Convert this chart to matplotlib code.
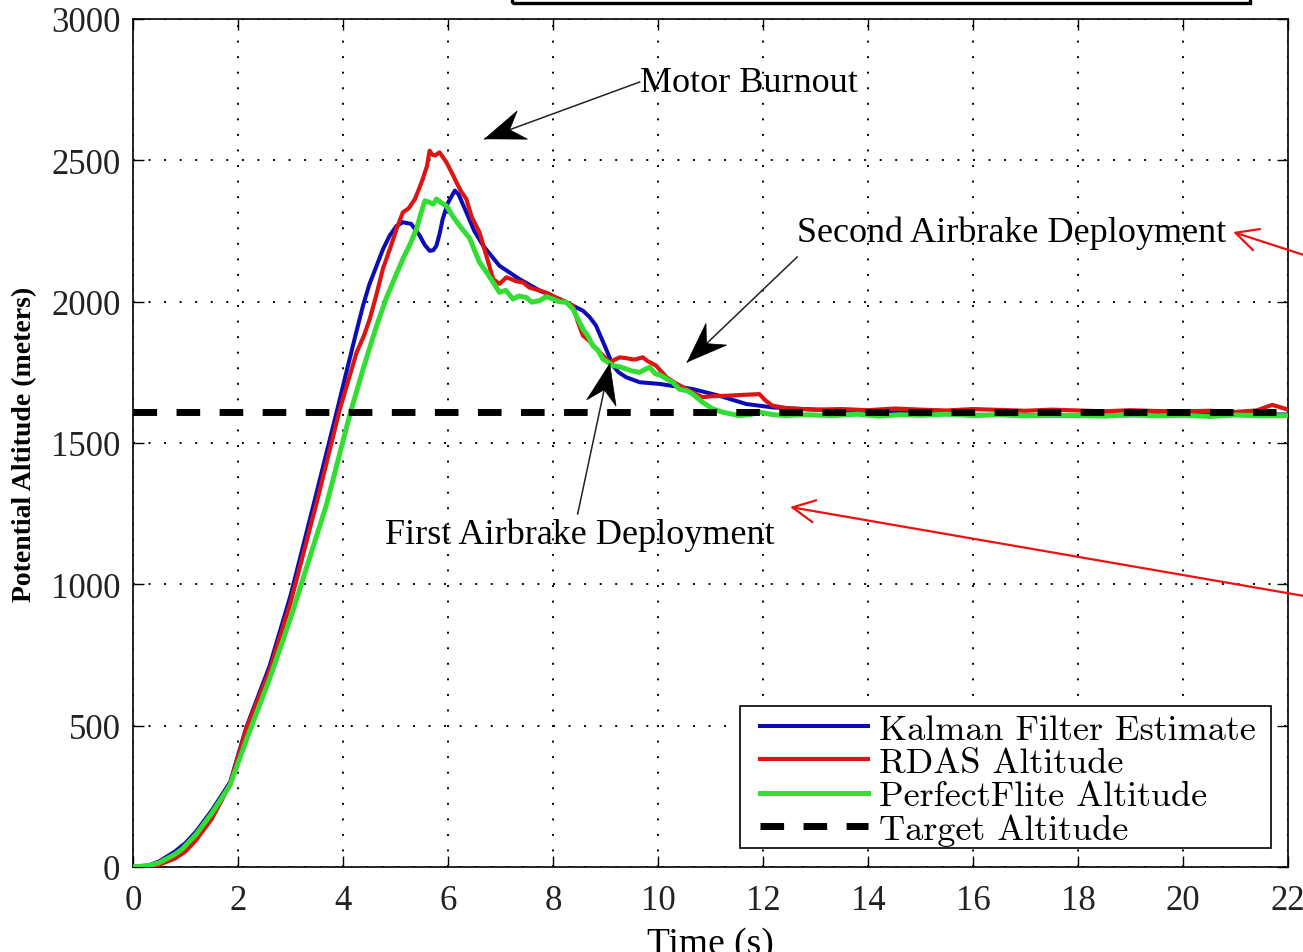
import numpy as np
import matplotlib
matplotlib.use('Agg')
import matplotlib.pyplot as plt
from matplotlib.patches import Polygon, Rectangle, FancyArrowPatch
from matplotlib.transforms import IdentityTransform

# Kalman filter estimate
kf_t = [0, 0.3, 0.5, 0.8, 1.0, 1.2, 1.5, 1.85, 2.16, 2.6, 3.0, 3.43, 3.88, 4.07, 4.25,
        4.38, 4.5, 4.64, 4.76, 4.89, 5.02, 5.14, 5.30, 5.46, 5.56, 5.65, 5.72, 5.78, 5.84,
        5.90, 6.0, 6.13, 6.2, 6.35, 6.5, 6.67, 6.98, 7.36, 7.75, 8.25, 8.57, 8.7, 8.82,
        9.01, 9.14, 9.25, 9.39, 9.65, 10.03, 10.66, 11.17, 11.68, 12.18, 13.0, 14.0, 15.0,
        16.0, 17.0, 18.0, 19.0, 20.0, 21.0, 22.0]
kf_alt = [0, 6, 20, 55, 85, 125, 200, 300, 495, 710, 960, 1275, 1610, 1755, 1890,
          1985, 2060, 2127, 2185, 2234, 2268, 2281, 2275, 2234, 2200, 2180, 2182, 2198, 2240,
          2293, 2350, 2393, 2380, 2316, 2250, 2198, 2127, 2080, 2039, 1998, 1968, 1945, 1915,
          1833, 1774, 1750, 1733, 1715, 1709, 1691, 1667, 1638, 1626, 1618, 1612, 1606,
          1600, 1598, 1597, 1598, 1600, 1600, 1601]

# RDAS altimeter
rdas_t = [0, 0.3, 0.5, 0.8, 1.0, 1.2, 1.5, 1.7, 1.85, 2.16, 2.6, 3.0, 3.5, 3.94, 4.1,
          4.26, 4.4, 4.51, 4.63, 4.76, 4.9, 5.02, 5.14, 5.25, 5.37, 5.45, 5.52, 5.6, 5.65,
          5.7, 5.75, 5.84, 5.97, 6.1, 6.16, 6.25, 6.35, 6.45, 6.6, 6.75, 6.86, 6.98, 7.05,
          7.11, 7.2, 7.3, 7.43, 7.55, 7.75, 7.9, 8.05, 8.19, 8.38, 8.47, 8.57, 8.7, 8.82,
          8.95, 9.08, 9.2, 9.27, 9.4, 9.55, 9.71, 9.8, 9.96, 10.16, 10.35, 10.54, 10.7,
          10.85, 11.0, 11.3, 11.6, 11.93, 12.05, 12.18, 12.5, 13, 13.5, 14, 14.5, 15, 15.5,
          16, 16.5, 17, 17.5, 18, 18.5, 19, 19.5, 20, 20.5, 21, 21.4, 21.7, 22]
rdas_alt = [0, 2, 8, 30, 55, 95, 170, 240, 295, 490, 695, 935, 1290, 1620, 1720,
            1821, 1880, 1939, 2020, 2116, 2190, 2257, 2316, 2330, 2363, 2400, 2434, 2480, 2534,
            2520, 2517, 2528, 2493, 2446, 2422, 2390, 2363, 2300, 2245, 2150, 2080, 2063, 2075,
            2086, 2080, 2072, 2068, 2050, 2039, 2030, 2015, 2004, 1986, 1930, 1880, 1860, 1833,
            1810, 1785, 1797, 1803, 1800, 1795, 1803, 1790, 1774, 1733, 1710, 1691, 1675,
            1662, 1665, 1667, 1670, 1673, 1650, 1632, 1622, 1618, 1620, 1616, 1622, 1618, 1615,
            1620, 1617, 1614, 1618, 1615, 1612, 1616, 1613, 1612, 1614, 1610, 1615, 1635, 1618]

# PerfectFlite altimeter
pf_t = [0, 0.3, 0.5, 0.8, 0.94, 1.2, 1.5, 1.85, 2.2, 2.6, 3.0, 3.18, 3.69, 4.13, 4.38,
        4.64, 4.83, 5.0, 5.14, 5.27, 5.40, 5.48, 5.56, 5.65, 5.72, 5.78, 5.87, 5.97, 6.1,
        6.22, 6.41, 6.6, 6.75, 6.86, 6.98, 7.1, 7.24, 7.35, 7.49, 7.6, 7.75, 7.87, 8.0,
        8.12, 8.25, 8.38, 8.47, 8.57, 8.66, 8.76, 8.85, 8.95, 9.05, 9.14, 9.26, 9.39, 9.5,
        9.65, 9.75, 9.84, 9.95, 10.05, 10.16, 10.28, 10.41, 10.55, 10.66, 10.85, 11.05,
        11.23, 11.55, 11.75, 11.93, 12.2, 12.44, 12.8, 13.33, 13.8, 14.2, 14.6, 15, 15.5,
        16, 16.5, 17, 17.5, 18, 18.5, 19, 19.5, 20, 20.5, 21, 21.5, 22]
pf_alt = [0, 5, 15, 45, 64, 115, 190, 290, 470, 665, 880, 985, 1285, 1600, 1760,
          1915, 2015, 2090, 2151, 2200, 2257, 2310, 2357, 2351, 2345, 2363, 2350, 2339, 2300,
          2269, 2225, 2139, 2100, 2068, 2033, 2040, 2009, 2020, 2015, 1998, 2004, 2018, 2009,
          2000, 1998, 1974, 1940, 1903, 1880, 1844, 1830, 1797, 1785, 1774, 1770, 1762, 1755,
          1750, 1760, 1768, 1745, 1740, 1727, 1715, 1690, 1685, 1673, 1644, 1620,
          1609, 1597, 1600, 1609, 1600, 1597, 1600, 1597, 1602, 1595, 1600, 1598, 1602,
          1597, 1600, 1596, 1599, 1597, 1595, 1600, 1596, 1598, 1594, 1599, 1596, 1597]

target_t = [0, 22]
target_alt = [1609, 1609]

xticks = [0, 2, 4, 6, 8, 10, 12, 14, 16, 18, 20, 22]
yticks = [0, 500, 1000, 1500, 2000, 2500, 3000]

W, H = 1303, 953
fig = plt.figure(figsize=(W / 100, H / 100), dpi=100)
ax = fig.add_axes([133 / W, 1 - 868 / H, 1155 / W, 848 / H])


def fpt(x, y):
    # pixel position (from top-left) -> figure fraction
    return (x / W, 1 - y / H)


ax.plot(kf_t, kf_alt, color='#0c0cb4', lw=2.9, label='Kalman Filter Estimate', zorder=3)
ax.plot(rdas_t, rdas_alt, color='#dc1414', lw=3.0, label='RDAS Altitude', zorder=3)
ax.plot(pf_t, pf_alt, color='#33dd33', lw=3.6, label='PerfectFlite Altitude', zorder=3)
ax.plot(target_t, target_alt, color='black', lw=5, linestyle=(0, (3.4, 2.8)),
        label='Target Altitude', zorder=4)

ax.set_xlim(0, 22)
ax.set_ylim(0, 3000)
ax.set_xticks(xticks)
ax.set_yticks(yticks)
ax.grid(True, color='black', linestyle=(0, (1, 7)), lw=1.4)
ax.set_axisbelow(True)
ax.tick_params(direction='in', top=True, right=True, length=8, width=1,
               labelsize=25)
ax.tick_params(axis='x', pad=12)
ax.tick_params(axis='y', pad=9)
for lab in ax.get_xticklabels() + ax.get_yticklabels():
    lab.set_family('Liberation Serif')
    lab.set_color('#222222')
for s in ax.spines.values():
    s.set_linewidth(1.2)

ax.set_xlabel('Time (s)', fontsize=27, family='Liberation Serif')
ax.xaxis.set_label_coords(0.5, -0.07)
ax.set_ylabel('Potential Altitude (meters)', fontsize=20, family='Liberation Serif',
              fontweight='bold', va='center')
ax.yaxis.set_label_coords(-0.0935, 0.5)

# legend box drawn separately so the rows can sit tight inside it
lx0, ly0 = fpt(740, 849)
lx1, ly1 = fpt(1271, 707)
ax.add_artist(Rectangle((lx0, ly0), lx1 - lx0, ly1 - ly0, transform=fig.transFigure,
                        fc='white', ec='black', lw=1.2, zorder=5))
leg = ax.legend(loc='lower right', bbox_to_anchor=fpt(1256, 847),
                bbox_transform=fig.transFigure, prop={'family': 'cmr10', 'size': 26},
                handlelength=3.0, handletextpad=0.3, labelspacing=0.03,
                borderpad=0, borderaxespad=0, frameon=False)
leg.set_zorder(6)


def arrow(tail, tip, length=40, half=15, notch=0.66):
    # thin shaft plus a swept-back filled head, built in pixel space
    ax.plot([tail[0], tip[0]], [tail[1], tip[1]], color='#222222', lw=1.1,
            clip_on=False, zorder=5)
    p0 = ax.transData.transform(tail)
    p1 = ax.transData.transform(tip)
    d = (p0 - p1) / np.hypot(*(p0 - p1))
    n = np.array([-d[1], d[0]])
    pts = [p1, p1 + d * length + n * half, p1 + d * length * notch,
           p1 + d * length - n * half]
    fig.add_artist(Polygon(pts, closed=True, transform=IdentityTransform(),
                           fc='black', ec='black', lw=0.5, zorder=6))


txt = dict(fontsize=26, family='Liberation Serif', va='center', ha='left', zorder=6)
ax.text(9.65, 2777, 'Motor Burnout', **txt)
arrow((9.65, 2777), (6.70, 2576))
ax.text(12.65, 2247, 'Second Airbrake Deployment', **txt)
arrow((12.65, 2158), (10.56, 1787))
ax.text(4.80, 1178, 'First Airbrake Deployment', **txt)
arrow((8.47, 1249), (9.08, 1780))

# red pointers from the right edge
for tail, tip in [((1310, 258), (1233, 233)), ((1310, 598), (790, 508))]:
    fig.add_artist(FancyArrowPatch(fpt(*tail), fpt(*tip), transform=fig.transFigure,
                                   arrowstyle='->,head_length=0.8,head_width=0.4',
                                   mutation_scale=20, color='#ee1111', lw=1.6,
                                   shrinkA=0, shrinkB=0))

# framed box cut by the top edge
x0, y0 = fpt(512, 4)
x1, _ = fpt(1250, 4)
fig.add_artist(Rectangle((x0, y0), x1 - x0, 0.1, transform=fig.transFigure,
                         fill=False, ec='black', lw=2.4, clip_on=False))

fig.savefig('out.png', dpi=100)
